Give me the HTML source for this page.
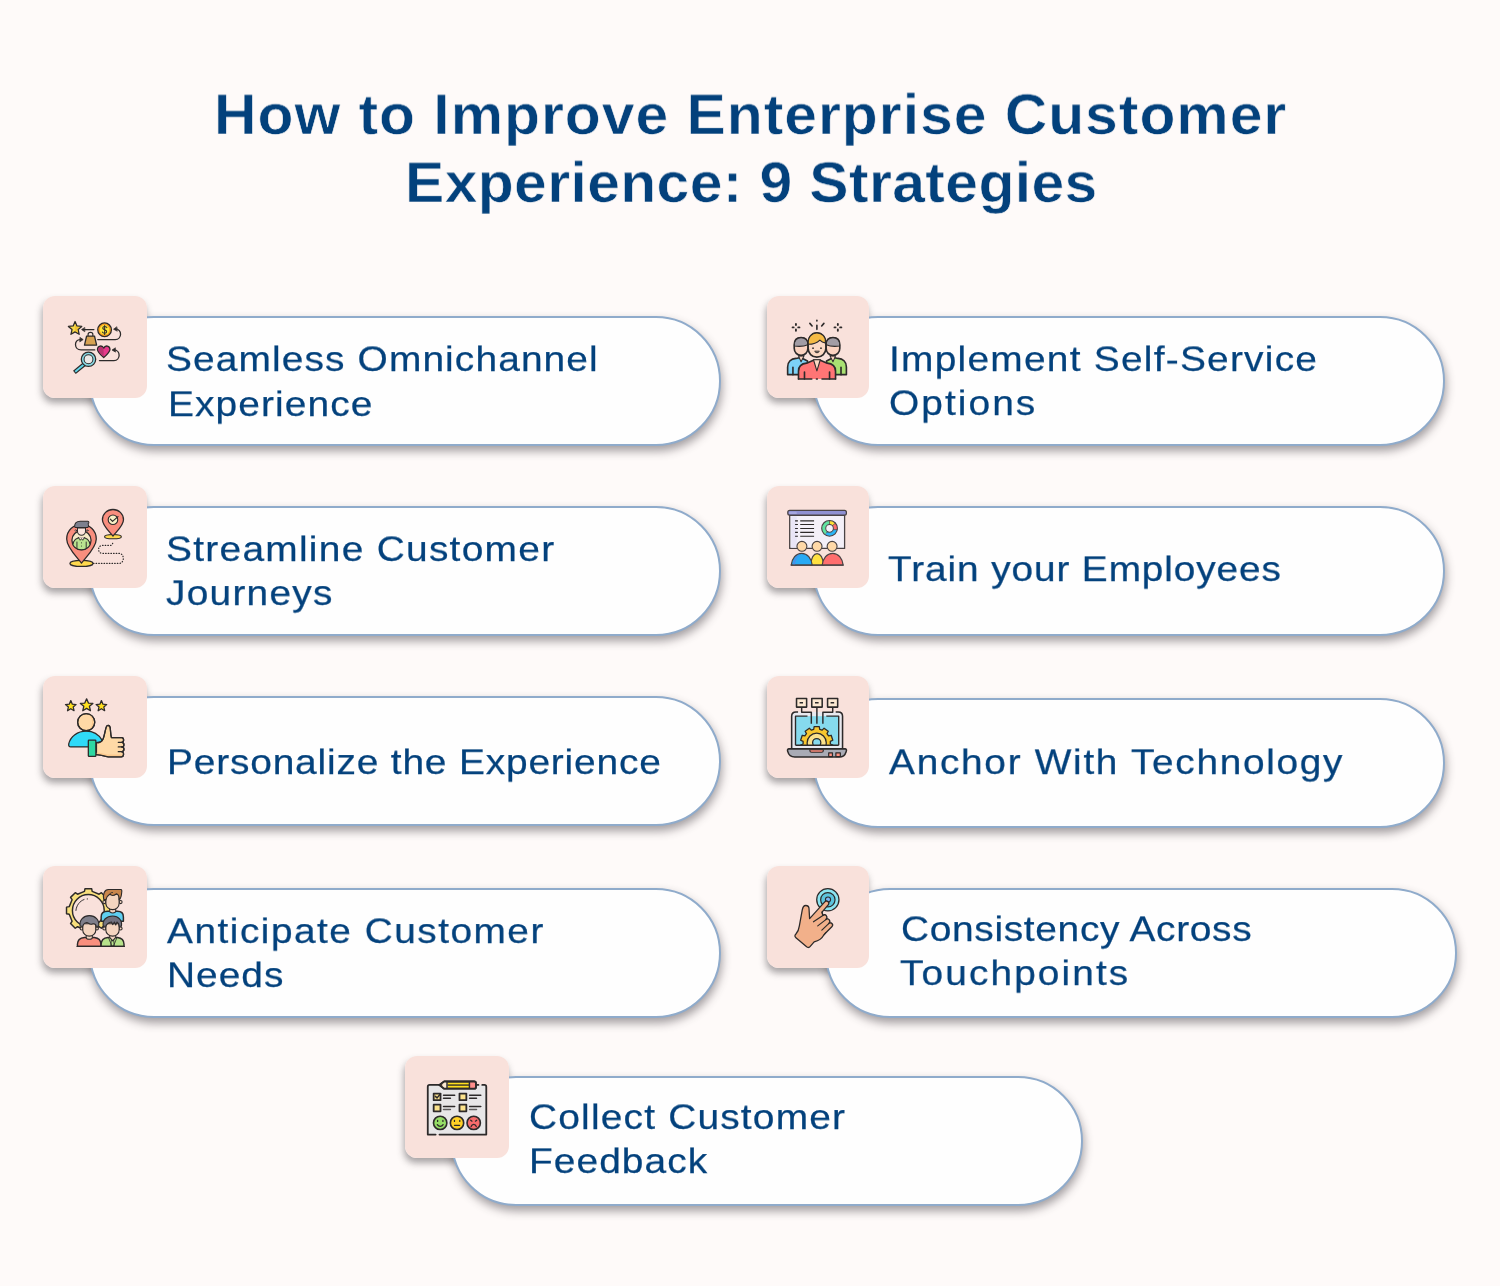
<!DOCTYPE html>
<html><head><meta charset="utf-8"><title>How to Improve Enterprise Customer Experience</title>
<style>
html,body{margin:0;padding:0}
body{width:1500px;height:1286px;background:#fefaf9;position:relative;overflow:hidden;font-family:"Liberation Sans",sans-serif;color:#03417c}
.pill{position:absolute;width:628px;height:126px;border:2px solid #8fabcb;border-radius:66px;background:#fefefe;box-shadow:1px 5px 10px rgba(50,45,50,.45)}
.box{position:absolute;width:103px;height:102px;border-radius:12px;background:#f9e1db}
.bs{position:absolute;height:102px;border-radius:12px;box-shadow:-1px 5px 7px rgba(50,45,50,.42)}
.box svg{position:absolute;left:0;top:0;width:100%;height:102px;overflow:visible}
.t{position:absolute;white-space:nowrap;font-size:36.0px;line-height:42px;height:42px;transform:scale(1.08,0.947);-webkit-text-stroke:.25px #03417c;will-change:transform}
.h{position:absolute;white-space:nowrap;font-size:56.6px;font-weight:bold;line-height:64px;height:64px;transform:scale(1.04,0.987);-webkit-text-stroke:.6px #fefaf9;will-change:transform}
</style></head><body>
<div class="bs" style="left:43px;top:296px;width:104px"></div>
<div class="bs" style="left:43px;top:486px;width:104px"></div>
<div class="bs" style="left:43px;top:676px;width:104px"></div>
<div class="bs" style="left:43px;top:866px;width:104px"></div>
<div class="bs" style="left:767px;top:296px;width:102px"></div>
<div class="bs" style="left:767px;top:486px;width:102px"></div>
<div class="bs" style="left:767px;top:676px;width:102px"></div>
<div class="bs" style="left:767px;top:866px;width:102px"></div>
<div class="bs" style="left:405px;top:1056px;width:104px"></div>
<div class="pill" style="left:89px;top:316px"></div>
<div class="pill" style="left:89px;top:506px"></div>
<div class="pill" style="left:89px;top:696px"></div>
<div class="pill" style="left:89px;top:888px"></div>
<div class="pill" style="left:813px;top:316px"></div>
<div class="pill" style="left:813px;top:506px"></div>
<div class="pill" style="left:813px;top:698px"></div>
<div class="pill" style="left:825px;top:888px"></div>
<div class="pill" style="left:451px;top:1076px"></div>
<div class="box" style="left:43px;top:296px;width:104px"><svg viewBox="0 0 104 102"><g transform="translate(-3 -6) scale(0.085537)" stroke="#2d2a2a" stroke-width="15" stroke-linecap="round" stroke-linejoin="round" fill="none">
<!-- star -->
<path d="M410 368 L432 420 L488 426 L446 463 L458 518 L410 490 L362 518 L374 463 L332 426 L388 420 Z" fill="#f6d84a"/>
<path d="M410 395 L424 432 L462 436 L433 460 L441 497 L410 478 Z" fill="#f2c230" stroke="none"/>
<!-- arrow coin->star -->
<path d="M630 462 H500"/><path d="M520 440 L486 462 L520 486 Z" fill="#2d2a2a" stroke-width="8"/>
<!-- coin -->
<circle cx="755" cy="465" r="80" fill="#f79f1f"/>
<circle cx="755" cy="465" r="56" fill="#ffe83a" stroke="none"/>
<path d="M782 440 C775 420 735 420 733 445 C731 470 782 460 780 488 C778 512 735 512 728 490 M756 415 V520" stroke-width="12"/>
<!-- right top curved arrow -->
<path d="M675 580 H880 C960 580 965 455 880 455"/><path d="M895 432 L860 458 L900 480 Z" fill="#2d2a2a" stroke-width="8"/>
<!-- bag -->
<path d="M562 540 V520 C562 488 618 488 618 520 V540" stroke-width="14"/>
<path d="M545 538 H637 L662 645 H520 Z" fill="#d8a252"/>
<!-- left curved arrow -->
<path d="M640 700 H480 C395 700 395 580 470 580"/><path d="M470 556 L505 580 L468 604 Z" fill="#2d2a2a" stroke-width="8"/>
<!-- heart -->
<path d="M745 790 C700 750 672 725 672 695 C672 650 728 640 745 680 C762 640 818 650 818 695 C818 725 790 750 745 790 Z" fill="#e8388a"/>
<path d="M745 780 C705 745 682 722 682 697 C682 662 725 655 742 688 Z" fill="#b93470" stroke="none"/>
<!-- right bottom curved arrow -->
<path d="M695 825 H865 C945 825 945 700 865 700"/><path d="M878 678 L842 702 L880 724 Z" fill="#2d2a2a" stroke-width="8"/>
<!-- magnifier -->
<path d="M518 868 L402 964" stroke-width="50" stroke-linecap="butt"/>
<path d="M510 875 L412 956" stroke="#62d6e8" stroke-width="22" stroke-linecap="butt"/>
<circle cx="567" cy="810" r="84" fill="#8adbe6"/>
<circle cx="567" cy="810" r="52" fill="#ebe9e8" stroke-width="12"/>
</g></svg></div>
<div class="box" style="left:43px;top:486px;width:104px"><svg viewBox="0 0 104 102"><g transform="translate(-3 -6) scale(0.085537)" stroke="#2d2a2a" stroke-width="15" stroke-linecap="round" stroke-linejoin="round" fill="none">
<!-- dotted path -->
<path d="M625 975 H925 C990 975 990 858 925 858 H730 C670 858 670 765 730 765 H820 C845 765 853 740 853 715" stroke-width="14" stroke-dasharray="6 25"/>
<!-- big base -->
<ellipse cx="485" cy="975" rx="135" ry="36" fill="#ffd94d"/>
<!-- big pin -->
<path d="M485 972 C430 900 312 790 312 690 C312 590 390 518 485 518 C580 518 658 590 658 690 C658 790 540 900 485 972 Z" fill="#f98e7e"/>
<!-- inner circle -->
<circle cx="485" cy="705" r="112" fill="#f6e8c6"/>
<!-- shoulders/body -->
<path d="M385 760 C390 700 430 672 485 672 C540 672 580 700 585 760 C560 800 520 815 485 815 C450 815 410 800 385 760 Z" fill="#b9e38f" stroke-width="12"/>
<path d="M432 725 V795 M540 725 V795" stroke-width="11"/>
<path d="M450 670 L470 705 L485 685 L500 705 L520 670" fill="#fbe4dc" stroke-width="10"/>
<circle cx="485" cy="735" r="6" fill="#2d2a2a" stroke="none"/><circle cx="485" cy="772" r="6" fill="#2d2a2a" stroke="none"/>
<!-- head -->
<path d="M438 560 V600 C438 625 460 645 485 645 C510 645 532 625 532 600 V560 Z" fill="#fbe4dc" stroke-width="12"/>
<circle cx="418" cy="590" r="9" fill="#fbe4dc" stroke-width="8"/><circle cx="553" cy="590" r="9" fill="#fbe4dc" stroke-width="8"/>
<!-- hair -->
<path d="M405 548 C400 505 430 482 470 482 H560 C575 482 575 505 562 510 C570 525 565 548 560 555 H412 Z" fill="#7d808e" stroke-width="12"/>
<!-- small base -->
<ellipse cx="853" cy="662" rx="98" ry="25" fill="#ffd94d" stroke-width="13"/>
<!-- small pin -->
<path d="M853 655 C810 600 730 535 730 465 C730 395 785 345 853 345 C921 345 976 395 976 465 C976 535 896 600 853 655 Z" fill="#f98e7e"/>
<circle cx="853" cy="465" r="56" fill="#f8f1c6" stroke-width="13"/>
<path d="M822 458 L848 484 L912 428" stroke-width="14"/>
</g></svg></div>
<div class="box" style="left:43px;top:676px;width:104px"><svg viewBox="0 0 104 102"><g transform="translate(-3 -6) scale(0.085537)" stroke="#2d2a2a" stroke-width="15" stroke-linecap="round" stroke-linejoin="round" fill="none">
<path d="M0 -62 L18 -20 L62 -16 L28 12 L38 56 L0 33 L-38 56 L-28 12 L-62 -16 L-18 -20 Z" transform="translate(360 420)" fill="#ffe01f"/>
<path d="M0 -62 L18 -20 L62 -16 L28 12 L38 56 L0 33 L-38 56 L-28 12 L-62 -16 L-18 -20 Z" transform="translate(545 410) scale(1.18)" fill="#ffe01f" stroke-width="13"/>
<path d="M0 -62 L18 -20 L62 -16 L28 12 L38 56 L0 33 L-38 56 L-28 12 L-62 -16 L-18 -20 Z" transform="translate(718 420)" fill="#ffe01f"/>
<!-- body -->
<path d="M360 900 C340 900 332 885 336 865 C355 775 440 715 540 715 C625 715 690 760 725 820 V900 Z" fill="#2fdaf8"/>
<!-- head -->
<circle cx="540" cy="610" r="100" fill="#ffd9a6"/>
<path d="M590 530 C625 570 625 650 590 690" stroke="#fcc98d" stroke-width="14"/>
<circle cx="540" cy="610" r="100"/>
<!-- hand -->
<path d="M660 850 C700 850 725 840 740 800 C755 760 765 690 775 665 C785 640 815 645 820 670 C825 700 825 760 835 790 H955 C985 790 985 845 955 845 C990 845 990 900 955 900 C990 900 990 955 955 955 C985 955 985 1015 950 1015 H800 C770 1015 740 995 660 990 Z" fill="#ffd9a6"/>
<path d="M670 975 C740 980 770 1000 800 1000 H950" stroke="#fcc98d" stroke-width="22"/>
<path d="M660 850 C700 850 725 840 740 800 C755 760 765 690 775 665 C785 640 815 645 820 670 C825 700 825 760 835 790 H955 C985 790 985 845 955 845 C990 845 990 900 955 900 C990 900 990 955 955 955 C985 955 985 1015 950 1015 H800 C770 1015 740 995 660 990"/>
<path d="M915 845 H955 M915 900 H955 M915 955 H955"/>
<!-- cuff -->
<rect x="565" y="820" width="88" height="190" rx="8" fill="#2ed8a2"/>
</g></svg></div>
<div class="box" style="left:43px;top:866px;width:104px"><svg viewBox="0 0 104 102"><g transform="translate(-3 -6) scale(0.085537)" stroke="#2d2a2a" stroke-width="17" stroke-linecap="round" stroke-linejoin="round" fill="none">
<!-- gear -->
<path d="M788 545 L820 551 L820 629 L788 635 L755 716 L773 743 L718 798 L691 780 L610 813 L604 845 L526 845 L520 813 L439 780 L412 798 L357 743 L375 716 L342 635 L310 629 L310 551 L342 545 L375 464 L357 437 L412 382 L439 400 L520 367 L526 335 L604 335 L610 367 L691 400 L718 382 L773 437 L755 464 Z" fill="#f8df7c"/>
<circle cx="565" cy="590" r="186" fill="#f9e1db"/>
<path d="M420 590 C425 530 465 480 515 462" stroke-width="11"/><circle cx="553" cy="455" r="7" fill="#2d2a2a" stroke="none"/>
<!-- top-right person -->
<path d="M715 700 V665 C715 625 745 600 790 600 H905 C950 600 975 625 975 665 V715 H715 Z" fill="#5fcff1"/>
<path d="M815 570 V600 C815 625 885 625 885 600 V570 Z" fill="#f4d5c0" stroke-width="12"/>
<circle cx="752" cy="492" r="18" fill="#f4d5c0" stroke-width="12"/><circle cx="942" cy="492" r="18" fill="#f4d5c0" stroke-width="12"/>
<path d="M770 400 V510 C770 550 810 580 850 580 C890 580 925 550 925 510 V400 Z" fill="#f4d5c0" stroke-width="13"/>
<path d="M745 460 C732 400 755 345 800 345 H945 C957 345 958 360 955 380 C952 425 945 452 925 465 C928 430 915 405 895 395 C870 415 835 420 815 400 C790 415 775 440 770 465 Z" fill="#c9864b" stroke-width="13"/>
<path d="M815 400 C822 385 835 378 848 380" stroke-width="10"/>
<!-- bottom-left person -->
<path d="M438 1010 V985 C438 940 470 910 520 905 H635 C680 910 712 940 712 985 V1010 Z" fill="#f98f7e"/>
<path d="M540 880 V905 C540 935 612 935 612 905 V880 Z" fill="#f4d5c0" stroke-width="12"/>
<circle cx="487" cy="800" r="18" fill="#f4d5c0" stroke-width="12"/><circle cx="665" cy="800" r="18" fill="#f4d5c0" stroke-width="12"/>
<path d="M500 745 V820 C500 860 535 890 577 890 C619 890 652 860 652 820 V745 Z" fill="#f4d5c0" stroke-width="13"/>
<path d="M470 775 C455 700 510 650 577 650 C645 650 700 700 685 775 H655 C655 750 630 740 610 748 C590 758 575 745 560 735 C540 725 505 740 500 775 Z" fill="#7f7f8a" stroke-width="13"/>
<!-- bottom-right person -->
<path d="M715 1010 V985 C715 940 745 910 795 905 H905 C950 910 982 940 982 985 V1010 Z" fill="#b7e28b"/>
<path d="M815 880 V905 L850 945 L885 905 V880 Z" fill="#f4d5c0" stroke-width="12"/>
<path d="M800 905 L840 1005 M900 905 L860 1005 M838 940 H862 L868 1005 H832 Z" stroke-width="10"/>
<circle cx="752" cy="800" r="18" fill="#f4d5c0" stroke-width="12"/><circle cx="942" cy="800" r="18" fill="#f4d5c0" stroke-width="12"/>
<path d="M770 745 V820 C770 860 808 890 850 890 C892 890 925 860 925 820 V745 Z" fill="#f4d5c0" stroke-width="13"/>
<path d="M740 775 C725 700 780 655 850 655 C915 655 965 700 952 775 H925 C925 750 915 735 900 725 L885 760 L870 725 L850 755 L835 725 C800 735 775 750 770 775 Z" fill="#72727f" stroke-width="13"/>
<path d="M435 1010 H985"/>
</g></svg></div>
<div class="box" style="left:767px;top:296px;width:102px"><svg viewBox="0 0 102 102"><g transform="translate(-4 -6) scale(0.085537)" stroke="#2d2a2a" stroke-width="19" stroke-linecap="round" stroke-linejoin="round" fill="none">
<!-- sparkles -->
<g stroke-width="22"><path d="M385 398 V410 M385 462 V476 M346 437 H358 M412 437 H426"/>
<path d="M875 398 V410 M875 462 V476 M836 437 H848 M902 437 H916"/>
<path d="M630 354 V362 M630 412 V460 M548 390 L574 420 M712 390 L686 420" stroke-width="19"/></g>
<!-- left person -->
<path d="M288 990 V900 C288 840 330 805 385 800 L440 790 L520 830 V990 Z" fill="#7cd2f6"/>
<path d="M350 990 V905" />
<path d="M415 770 L445 840 L480 770 Z" fill="#fbd3c0" stroke-width="12"/>
<path d="M365 640 C365 580 400 555 445 555 C490 555 525 580 525 640 V680 C525 730 490 765 445 765 C400 765 365 730 365 680 Z" fill="#fbd3c0"/>
<path d="M367 655 C360 590 400 557 445 557 C490 557 530 590 523 640 C480 660 410 660 367 655 Z" fill="#a29da5" stroke-width="13"/>
<!-- right person -->
<path d="M975 990 V900 C975 840 933 805 878 800 L823 790 L743 830 V990 Z" fill="#a9e172"/>
<path d="M912 990 V905"/>
<path d="M848 770 L818 840 L783 770 Z" fill="#fbd3c0" stroke-width="12"/>
<path d="M898 640 C898 580 863 555 818 555 C773 555 738 580 738 640 V680 C738 730 773 765 818 765 C863 765 898 730 898 680 Z" fill="#fbd3c0"/>
<path d="M896 655 C903 590 863 557 818 557 C773 557 733 590 740 640 C783 660 853 660 896 655 Z" fill="#a29da5" stroke-width="13"/>
<!-- center body -->
<path d="M415 1040 V950 C415 890 455 860 510 855 L590 820 H670 L750 855 C805 860 848 890 848 950 V1040 Z" fill="#ff7575" stroke="none"/>
<path d="M415 1040 V950 C415 890 455 860 510 855 L590 820 H670 L750 855 C805 860 848 890 848 950 V1040"/>
<path d="M590 815 L630 945 L670 815 Z" fill="#fcd9c4" stroke-width="13"/>
<path d="M485 1040 V960 M778 1040 V960"/>
<path d="M415 1040 H570 M690 1040 H848 M625 1040 H635"/>
<!-- center head -->
<path d="M528 640 C528 550 570 500 630 500 C690 500 735 550 735 640 V680 C735 740 690 785 630 785 C570 785 528 740 528 680 Z" fill="#fcd9c4"/>
<path d="M530 635 C520 550 570 502 630 502 C690 502 740 550 730 620 C710 615 680 600 665 585 C640 610 580 635 530 635 Z" fill="#f5bb45" stroke-width="13"/>
<circle cx="585" cy="680" r="10" fill="#2d2a2a" stroke="none"/><circle cx="678" cy="680" r="10" fill="#2d2a2a" stroke="none"/>
<path d="M605 718 C615 740 648 740 658 718 Z" fill="#2d2a2a" stroke-width="8"/>
</g></svg></div>
<div class="box" style="left:767px;top:486px;width:102px"><svg viewBox="0 0 102 102"><g transform="translate(-4 -6) scale(0.085537)" stroke="#4a4344" stroke-width="15" stroke-linecap="round" stroke-linejoin="round" fill="none">
<!-- screen -->
<rect x="312" y="405" width="642" height="395" fill="#f4f0f8"/>
<rect x="330" y="425" width="65" height="365" fill="#e9e5f6" stroke="none"/>
<!-- top bar -->
<rect x="290" y="355" width="685" height="57" rx="22" fill="#8f90d2"/>
<rect x="305" y="372" width="90" height="26" rx="10" fill="#a5a6e0" stroke="none"/>
<!-- list -->
<g stroke="#2d2a2a" stroke-width="13" stroke-linecap="butt"><path d="M375 478 H408 M435 478 H597 M375 521 H408 M435 521 H597 M375 567 H408 M435 567 H597 M375 612 H408 M435 612 H597 M375 658 H408 M435 658 H597"/></g>
<!-- donut -->
<g stroke-linecap="butt" stroke-width="44">
<path d="M778 497 A68 68 0 0 0 740 621" stroke="#5fe3a1"/>
<path d="M740 621 A68 68 0 0 0 845 580" stroke="#29b6f6"/>
<path d="M845 580 A68 68 0 0 0 828 519" stroke="#ff6b6b"/>
<path d="M828 519 A68 68 0 0 0 778 497" stroke="#ffe033"/>
</g>
<circle cx="778" cy="565" r="92" stroke-width="13"/><circle cx="778" cy="565" r="45" fill="#f4f0f8" stroke-width="12"/>
<g stroke-width="9"><path d="M778 473 V520 M740 621 L757 602 M823 580 L868 580 M810 535 L845 505"/></g>
<!-- bodies -->
<path d="M555 995 C565 915 590 862 632 862 C675 862 700 915 712 995 Z" fill="#ffe040"/>
<path d="M330 995 C340 915 385 858 452 858 C520 858 565 915 575 995 Z" fill="#29aaf4"/>
<path d="M350 990 C362 920 395 875 440 868 C400 890 380 940 375 990 Z" fill="#4a8fe8" stroke="none"/>
<path d="M692 995 C702 915 747 858 814 858 C882 858 927 915 937 995 Z" fill="#ff6e6e"/>
<path d="M330 995 H937"/>
<!-- heads -->
<circle cx="455" cy="775" r="58" fill="#ffd9a8" stroke-width="13"/>
<circle cx="632" cy="775" r="58" fill="#ffd9a8" stroke-width="13"/>
<circle cx="808" cy="775" r="58" fill="#ffd9a8" stroke-width="13"/>
</g></svg></div>
<div class="box" style="left:767px;top:676px;width:102px"><svg viewBox="0 0 102 102"><defs><clipPath id="c7"><rect x="380" y="540" width="505" height="340"/></clipPath></defs><g transform="translate(-4 -6) scale(0.085537)" stroke="#2d2a2a" stroke-width="18" stroke-linecap="butt" stroke-linejoin="round" fill="none">
<!-- laptop frame -->
<path d="M335 915 V540 C335 510 355 490 385 490 H880 C910 490 930 510 930 540 V915 Z" fill="#e9e9ef" stroke="none"/>
<path d="M410 490 H385 C355 490 335 510 335 540 V915 M850 490 H880 C910 490 930 510 930 540 V915"/>
<rect x="380" y="540" width="505" height="340" fill="#86daed" stroke="none"/>
<g clip-path="url(#c7)">
<path d="M593 694 L598 662 L658 662 L663 694 L692 703 L714 680 L763 716 L748 744 L766 769 L797 763 L816 821 L787 835 L787 865 L816 879 L797 937 L766 931 L748 956 L763 984 L714 1020 L692 997 L663 1006 L658 1038 L598 1038 L593 1006 L564 997 L542 1020 L493 984 L508 956 L490 931 L459 937 L440 879 L469 865 L469 835 L440 821 L459 763 L490 769 L508 744 L493 716 L542 680 L564 703 Z" fill="#f8c72f" stroke-width="15"/>
<circle cx="628" cy="850" r="112" fill="#fbe18c" stroke-width="15"/>
<circle cx="628" cy="850" r="48" fill="#86daed" stroke-width="15"/>
</g>
<path d="M380 880 V540 H520 M740 540 H885 V880 M380 880 H885" stroke-width="16"/>
<!-- connectors -->
<path d="M452 435 V495 H565 V628 M630 435 V628 M815 435 V495 H700 V628" stroke-width="17"/>
<!-- top boxes -->
<rect x="392" y="332" width="118" height="102" fill="#fde9d2"/>
<rect x="570" y="332" width="122" height="102" fill="#fde9d2"/>
<rect x="755" y="332" width="118" height="102" fill="#fde9d2"/>
<path d="M428 383 H468 M608 383 H650 M790 383 H832" stroke-width="16"/>
<!-- base -->
<path d="M300 922 H962 C978 922 978 940 972 955 C960 995 930 1018 890 1018 H372 C330 1018 300 995 290 955 C284 940 286 922 300 922 Z" fill="#a9abb5"/>
<path d="M548 932 H705 V945 C705 958 695 962 685 962 H568 C558 962 548 958 548 945 Z" fill="#ff9080" stroke-width="13"/>
<rect x="768" y="968" width="44" height="44" fill="#ff9080" stroke-width="14"/>
<rect x="852" y="968" width="52" height="44" fill="#ff9080" stroke-width="14"/>
</g></svg></div>
<div class="box" style="left:767px;top:866px;width:102px"><svg viewBox="0 0 102 102"><g transform="translate(-4 -6) scale(0.085537)" stroke="#2d2a2a" stroke-width="15" stroke-linecap="round" stroke-linejoin="round" fill="none">
<circle cx="758" cy="465" r="130" fill="#8be4f0"/>
<circle cx="758" cy="465" r="84" fill="#5cc4dd" stroke-width="14"/>
<circle cx="760" cy="463" r="30" fill="#7ab6f4" stroke-width="13"/>
<!-- hand fill -->
<path d="M500 532 C472 532 463 560 458 590 L425 770 C420 815 410 835 385 865 C368 882 370 895 385 908 L510 1015 C525 1027 540 1025 552 1010 L598 958 C640 945 685 925 705 885 L735 850 L805 780 C830 755 795 718 768 742 C800 715 765 672 735 695 C765 665 730 622 700 648 L690 610 L762 525 C785 495 745 462 722 490 L545 685 L538 570 C538 545 525 532 500 532 Z" fill="#f2b08a"/>
<!-- finger separation lines -->
<path d="M700 648 L590 722 M735 697 L640 770 M768 744 L688 820 M735 850 L715 872" stroke-width="14"/>
<path d="M690 610 L700 648"/>
</g></svg></div>
<div class="box" style="left:405px;top:1056px;width:104px"><svg viewBox="0 0 104 102"><g transform="translate(-4 -6) scale(0.085537)" stroke="#2d2a2a" stroke-width="21" stroke-linecap="round" stroke-linejoin="round" fill="none">
<!-- paper -->
<rect x="312" y="407" width="686" height="582" fill="#e7e6e7" stroke="none"/>
<path d="M905 408 H335 C320 408 313 415 313 430 V989 H405 M450 989 H997 V430 C997 415 990 408 975 408 H950"/>
<!-- pencil -->
<path d="M450 410 L505 368 H855 C870 368 876 376 876 388 V432 C876 444 870 452 855 452 H505 Z" fill="#ffe01f"/>
<path d="M450 410 L505 368 H545 V452 H505 Z" fill="#fbe9d2" stroke="none"/>
<path d="M450 410 L482 386 V434 Z" fill="#6a4632" stroke="none"/>
<rect x="800" y="372" width="72" height="76" rx="10" fill="#ff8f8c" stroke="none"/>
<path d="M538 372 V448 M800 372 V448" stroke-width="17"/>
<path d="M545 410 H795" stroke-width="16" stroke-linecap="butt"/>
<path d="M450 410 L505 368 H855 C870 368 876 376 876 388 V432 C876 444 870 452 855 452 H505 Z"/>
<!-- checkboxes -->
<g fill="#fce38c"><rect x="382" y="509" width="80" height="78"/><rect x="684" y="509" width="80" height="78"/><rect x="382" y="639" width="80" height="78"/><rect x="684" y="639" width="80" height="78"/></g>
<path d="M402 542 L422 560 L462 512" stroke-width="17"/>
<g stroke-width="17"><path d="M497 528 H628 M497 565 H578 M802 528 H933 M802 565 H883 M497 660 H628 M802 660 H933"/><path d="M497 695 H578 M802 695 H883" stroke="#5e5b5c"/></g>
<!-- faces -->
<circle cx="458" cy="852" r="78" fill="#95dd66" stroke-width="19"/>
<circle cx="655" cy="852" r="78" fill="#ffd025" stroke-width="19"/>
<circle cx="850" cy="852" r="78" fill="#f66c6c" stroke-width="19"/>
<g stroke-width="15"><path d="M428 822 V835 M490 822 V835 M425 872 C440 900 478 900 492 872"/>
<path d="M625 822 V835 M687 822 V835 M625 880 H685"/>
<path d="M815 820 L830 832 M885 820 L870 832 M820 895 C830 862 870 862 880 895"/></g>
</g></svg></div>
<div class="h" style="left:213.9px;top:83.0px;letter-spacing:0.94px;transform-origin:0 51px">How to Improve Enterprise Customer</div>
<div class="h" style="left:404.9px;top:150.7px;letter-spacing:0.36px;transform-origin:0 51px">Experience: 9 Strategies</div>
<div class="t" style="left:166.1px;top:338.2px;letter-spacing:1.03px;transform-origin:0 33px">Seamless Omnichannel</div>
<div class="t" style="left:167.5px;top:382.5px;letter-spacing:1.01px;transform-origin:0 33px">Experience</div>
<div class="t" style="left:166.2px;top:528.3px;letter-spacing:1.18px;transform-origin:0 33px">Streamline Customer</div>
<div class="t" style="left:165.8px;top:572.4px;letter-spacing:1.13px;transform-origin:0 33px">Journeys</div>
<div class="t" style="left:167.3px;top:740.5px;letter-spacing:0.76px;transform-origin:0 33px">Personalize the Experience</div>
<div class="t" style="left:166.9px;top:910.3px;letter-spacing:1.35px;transform-origin:0 33px">Anticipate Customer</div>
<div class="t" style="left:167.3px;top:954.4px;letter-spacing:0.93px;transform-origin:0 33px">Needs</div>
<div class="t" style="left:889.2px;top:338.3px;letter-spacing:1.15px;transform-origin:0 33px">Implement Self-Service</div>
<div class="t" style="left:888.5px;top:382.4px;letter-spacing:1.89px;transform-origin:0 33px">Options</div>
<div class="t" style="left:887.9px;top:548.3px;letter-spacing:0.79px;transform-origin:0 33px">Train your Employees</div>
<div class="t" style="left:889.2px;top:740.5px;letter-spacing:1.54px;transform-origin:0 33px">Anchor With Technology</div>
<div class="t" style="left:900.6px;top:908.3px;letter-spacing:0.62px;transform-origin:0 33px">Consistency Across</div>
<div class="t" style="left:899.9px;top:952.4px;letter-spacing:1.91px;transform-origin:0 33px">Touchpoints</div>
<div class="t" style="left:528.5px;top:1096.4px;letter-spacing:1.10px;transform-origin:0 33px">Collect Customer</div>
<div class="t" style="left:529.4px;top:1140.4px;letter-spacing:0.98px;transform-origin:0 33px">Feedback</div>
</body></html>
